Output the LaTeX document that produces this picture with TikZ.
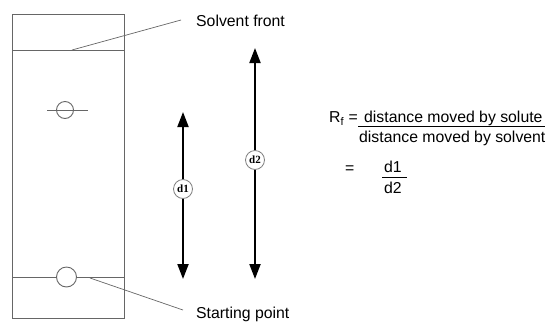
\documentclass[tikz,border=0pt]{standalone}
\usepackage{fontspec}
\setmainfont{Liberation Sans}
\newfontfamily\labfont{Liberation Serif}
\usetikzlibrary{arrows.meta}
\tikzset{
  plate/.style={draw=black!60, line width=0.9pt},
  leader/.style={draw=black!60, line width=0.7pt},
  spot/.style={circle, draw=black!60, line width=0.9pt, minimum size=18pt, inner sep=0pt},
  dbl/.style={line width=2pt, {Triangle[length=15pt,width=11pt]}-{Triangle[length=15pt,width=11pt]}},
  lab/.style={circle, draw=black!50, fill=white, line width=0.8pt, minimum size=19pt, inner sep=0pt, font=\labfont\bfseries\fontsize{11}{12}\selectfont},
  txt/.style={anchor=base west, inner sep=0pt, font=\fontsize{15.8}{18}\selectfont},
  ftxt/.style={anchor=base west, inner sep=0pt, font=\fontsize{15.8}{18}\selectfont}
}
\begin{document}
\begin{tikzpicture}[x=1pt,y=-1pt]
\useasboundingbox (0,0) rectangle (548,322);
% plate
\coordinate (p1) at (12,14);
\coordinate (p2) at (124,318);
\draw[plate] (p1) rectangle (p2);
\coordinate (fl) at (12,50); \coordinate (fr) at (124,50);
\draw[plate] (fl) -- (fr);
\coordinate (sl) at (12,277); \coordinate (sr) at (124,277);
\draw[plate] (sl) -- (sr);
% spots
\node[spot, minimum size=17pt] (topspot) at (65,110) {};
\coordinate (tl) at (47,110); \coordinate (tr) at (88,110);
\draw[plate] (tl) -- (tr);
\node[spot, minimum size=20pt, fill=white] (startspot) at (66.5,277) {};
% labels and leaders
\node[txt] (solvent) at (196,26) {Solvent front};
\coordinate (sfp) at (72,50); \coordinate (sfe) at (181,20);
\draw[leader] (sfp) -- (sfe);
\node[txt] (starting) at (196,318) {Starting point};
\coordinate (spp) at (90,278); \coordinate (spe) at (183,310);
\draw[leader] (spp) -- (spe);
% arrows
\coordinate (a1) at (183,112); \coordinate (b1) at (183,279);
\draw[dbl] (a1) -- (b1);
\node[lab] (d1) at (183,189) {d1};
\coordinate (a2) at (255,48); \coordinate (b2) at (255,279);
\draw[dbl] (a2) -- (b2);
\node[lab] (d2) at (255,160) {d2};
% formula
\node[ftxt] (rf) at (329,122) {R\textsubscript{f} =};
\node[ftxt] (num) at (364,122) {distance moved by solute};
\node[ftxt] (den) at (359,142) {distance moved by solvent};
\coordinate (fa) at (358,126.5); \coordinate (fb) at (545,126.5);
\draw[line width=0.8pt] (fa) -- (fb);
\node[ftxt] (eq) at (345,173) {=};
\node[ftxt] (n1) at (384,172) {d1};
\node[ftxt] (n2) at (384,193) {d2};
\coordinate (ga) at (382,177.5); \coordinate (gb) at (407,177.5);
\draw[line width=0.8pt] (ga) -- (gb);
\end{tikzpicture}
\end{document}
